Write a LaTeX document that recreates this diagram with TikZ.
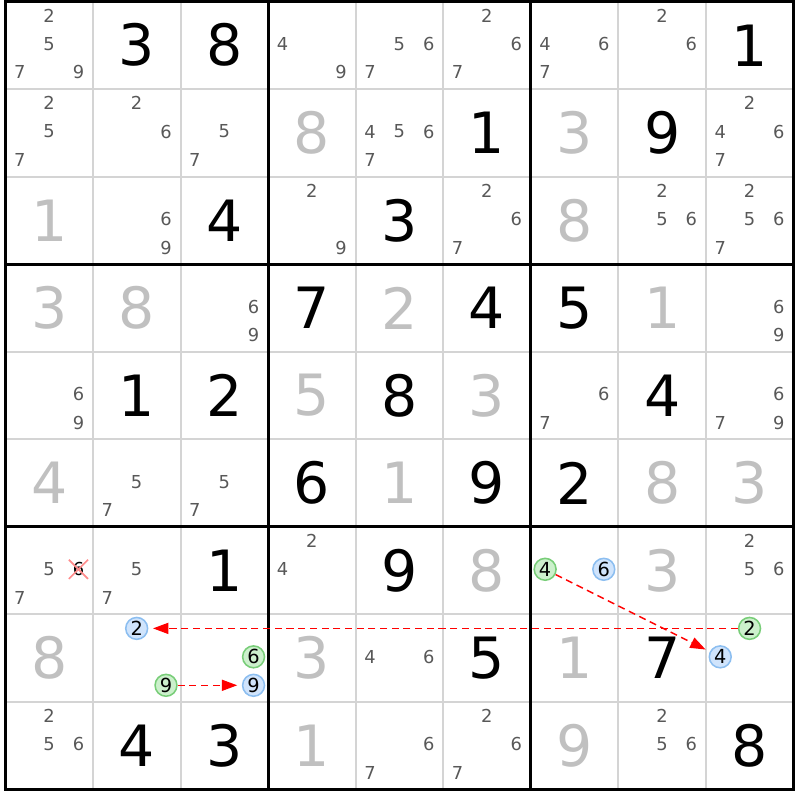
\documentclass[tikz,border=0pt]{standalone}
\usepackage{fontspec}
\setmainfont{DejaVu Sans}
\usetikzlibrary{arrows.meta,shapes.misc}
\definecolor{solvedgray}{RGB}{192,192,192}
\definecolor{candgray}{RGB}{88,88,88}
\definecolor{gridgray}{RGB}{212,212,212}
\definecolor{linkred}{RGB}{255,0,0}
\definecolor{onfill}{RGB}{204,240,204}
\definecolor{ondraw}{RGB}{120,205,120}
\definecolor{offfill}{RGB}{208,228,252}
\definecolor{offdraw}{RGB}{140,190,240}
\definecolor{elimred}{RGB}{255,140,140}
\tikzset{
  given/.style={inner sep=0pt, font=\fontsize{18.5}{18.5}\selectfont},
  solved/.style={given, text=solvedgray},
  cand/.style={inner sep=0pt, text=candgray, font=\fontsize{5.8}{5.8}\selectfont},
  oncand/.style={circle, inner sep=0pt, minimum size=0.25cm, fill=onfill, draw=ondraw, line width=0.5pt, font=\fontsize{6.3}{6.3}\selectfont},
  offcand/.style={oncand, fill=offfill, draw=offdraw},
  elimcand/.style={cand, text=black, cross out, draw=elimred, line width=0.55pt, minimum size=0.2cm},
  link/.style={draw=linkred, line width=0.45pt, dash pattern=on 2.3pt off 1.5pt, -{Triangle[length=5pt,width=3.6pt]}, shorten >=1.5pt},
}
\begin{document}
\begin{tikzpicture}
    \useasboundingbox (-0.063,0.017) rectangle (9.074,-9.12);
    % cell lines
    \foreach \i in {1,2,4,5,7,8} {
        \draw[gridgray, line width=0.65pt] (\i,0) -- (\i,-9);
        \draw[gridgray, line width=0.65pt] (0,-\i) -- (9,-\i);
    }
    % box lines
    \foreach \i in {0,3,6,9} {
        \draw[line width=1pt, line cap=rect] (\i,0) -- (\i,-9);
        \draw[line width=1pt, line cap=rect] (0,-\i) -- (9,-\i);
    }
    % givens
    \foreach \r/\c/\d in {0/1/3, 0/2/8, 0/8/1, 1/5/1, 1/7/9, 2/2/4, 2/4/3, 3/3/7, 3/5/4, 3/6/5,
                          4/1/1, 4/2/2, 4/4/8, 4/7/4, 5/3/6, 5/5/9, 5/6/2, 6/2/1, 6/4/9,
                          7/5/5, 7/7/7, 8/1/4, 8/2/3, 8/8/8}
        \node[given] (n\r\c) at (\c+0.5,-\r-0.5) {\d};
    % solved
    \foreach \r/\c/\d in {1/3/8, 1/6/3, 2/0/1, 2/6/8, 3/0/3, 3/1/8, 3/4/2, 3/7/1, 4/3/5, 4/5/3,
                          5/0/4, 5/4/1, 5/7/8, 5/8/3, 6/5/8, 6/7/3, 7/0/8, 7/3/3, 7/6/1, 8/3/1, 8/6/9}
        \node[solved] (n\r\c) at (\c+0.5,-\r-0.5) {\d};
    % candidates
    \foreach \r/\c/\d in {0/0/2, 0/0/5, 0/0/7, 0/0/9, 0/3/4, 0/3/9, 0/4/5, 0/4/6, 0/4/7,
                          0/5/2, 0/5/6, 0/5/7, 0/6/4, 0/6/6, 0/6/7, 0/7/2, 0/7/6,
                          1/0/2, 1/0/5, 1/0/7, 1/1/2, 1/1/6, 1/2/5, 1/2/7, 1/4/4, 1/4/5, 1/4/6, 1/4/7,
                          1/8/2, 1/8/4, 1/8/6, 1/8/7,
                          2/1/6, 2/1/9, 2/3/2, 2/3/9, 2/5/2, 2/5/6, 2/5/7, 2/7/2, 2/7/5, 2/7/6,
                          2/8/2, 2/8/5, 2/8/6, 2/8/7,
                          3/2/6, 3/2/9, 3/8/6, 3/8/9,
                          4/0/6, 4/0/9, 4/6/6, 4/6/7, 4/8/6, 4/8/7, 4/8/9,
                          5/1/5, 5/1/7, 5/2/5, 5/2/7,
                          6/0/5, 6/0/7, 6/1/5, 6/1/7, 6/3/2, 6/3/4, 6/8/2, 6/8/5, 6/8/6,
                          7/4/4, 7/4/6,
                          8/0/2, 8/0/5, 8/0/6, 8/4/6, 8/4/7, 8/5/2, 8/5/6, 8/5/7, 8/7/2, 8/7/5, 8/7/6}
        \node[cand] (k\r\c\d) at ({\c+0.163+0.335*mod(\d-1,3)},{-\r-0.16-0.325*int((\d-1)/3)}) {\d};
    % eliminated candidate
    \node[elimcand] (k606) at (0.833,-6.485) {6};
    % chain candidates
    \foreach \r/\c/\d in {6/6/4, 7/1/9, 7/2/6, 7/8/2}
        \node[oncand] (on\r\c\d) at ({\c+0.163+0.335*mod(\d-1,3)},{-\r-0.16-0.325*int((\d-1)/3)}) {\d};
    \foreach \r/\c/\d in {6/6/6, 7/1/2, 7/2/9, 7/8/4}
        \node[offcand] (off\r\c\d) at ({\c+0.163+0.335*mod(\d-1,3)},{-\r-0.16-0.325*int((\d-1)/3)}) {\d};
    % links
    \draw[link] (on782) -- (off712);
    \draw[link] (on719) -- (off729);
    \draw[link] (on664) -- (off784);
\end{tikzpicture}
\end{document}
